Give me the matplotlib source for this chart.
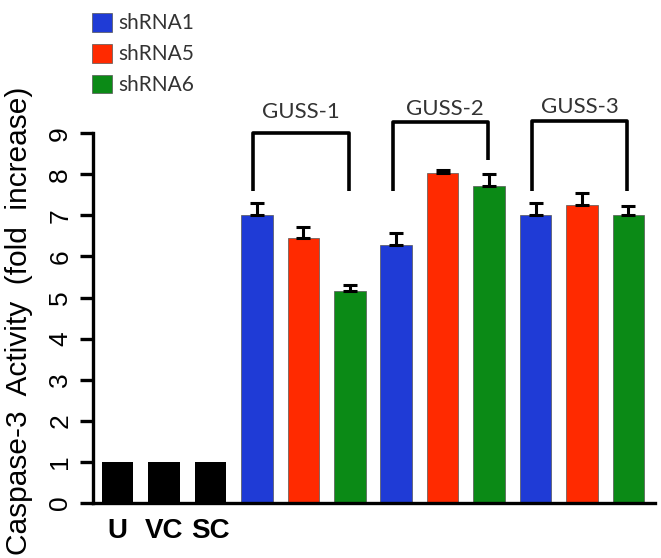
import matplotlib
matplotlib.use("Agg")
import matplotlib.pyplot as plt
import numpy as np

# control samples
controls = ['U', 'VC', 'SC']
control_vals = [1, 1, 1]

# GUSS groups, one value per shRNA
groups = ['GUSS-1', 'GUSS-2', 'GUSS-3']
shrna_names = ['shRNA1', 'shRNA5', 'shRNA6']
shrna1 = [7.0, 6.28, 7.0]
shrna1_err = [0.3, 0.3, 0.3]
shrna5 = [6.45, 8.03, 7.25]
shrna5_err = [0.27, 0.08, 0.29]
shrna6 = [5.16, 7.71, 7.0]
shrna6_err = [0.15, 0.3, 0.22]

# bracket heights above each group
bracket_top = [9.0, 9.27, 9.3]
bracket_left = [7.6, 7.6, 7.6]
bracket_right = [7.6, 8.35, 7.6]
label_y = [9.37, 9.44, 9.49]

colors = ['#1f3bd6', '#ff2a00', '#0b8a16']

plt.rcParams['font.family'] = ['Liberation Sans', 'DejaVu Sans']

fig = plt.figure(figsize=(6.61, 5.58), dpi=100)
ax = fig.add_axes([0.1407, 0.0986, 0.850, 0.740])

w = 0.68
xc = np.arange(len(controls))
ax.bar(xc, control_vals, width=w, color='black')

vals = [shrna1, shrna5, shrna6]
errs = [shrna1_err, shrna5_err, shrna6_err]
for k in range(3):
    x = 3 + 3 * np.arange(len(groups)) + k
    ax.bar(x, vals[k], width=w, color=colors[k], edgecolor='#555555', linewidth=0.5,
           label=shrna_names[k],
           yerr=[np.zeros(len(groups)), errs[k]],
           error_kw=dict(ecolor='black', elinewidth=2.2, capsize=5, capthick=2.2))

for g in range(len(groups)):
    x0 = 3 + 3 * g - 0.08
    x1 = 3 + 3 * g + 2 - 0.02
    ax.plot([x0, x0, x1, x1], [bracket_left[g], bracket_top[g], bracket_top[g], bracket_right[g]],
            color='black', lw=2.6, solid_capstyle='butt', clip_on=False)
    ax.text((x0 + x1) / 2 + (0.1 if g == 1 else 0), label_y[g], groups[g], ha='center', va='baseline',
            fontsize=16, color='#333333', family=['Lato', 'DejaVu Sans'])

ax.set_xlim(-0.53, 11.57)
ax.set_ylim(0, 10.05)
ax.set_yticks(range(10))
ax.set_yticklabels([str(i) for i in range(10)], rotation=90, va='center', fontsize=19)
ax.set_xticks(xc)
ax.set_xticklabels(controls, fontsize=20, fontweight='bold')
ax.tick_params(axis='x', length=0, pad=11)
ax.tick_params(axis='y', length=9.5, width=2.4, pad=5.5)

for s in ['top', 'right']:
    ax.spines[s].set_visible(False)
ax.spines['left'].set_linewidth(2.4)
ax.spines['bottom'].set_linewidth(2.4)
ax.spines['left'].set_bounds(0, 9)

ax.set_ylabel('Caspase-3  Activity  (fold  increase)', fontsize=21.5)
ax.yaxis.set_label_coords(-0.107, 0.44)

leg = ax.legend(loc='upper left', bbox_to_anchor=(92 / 661, 1 - 13 / 558),
                bbox_transform=fig.transFigure, frameon=False,
                borderpad=0, borderaxespad=0,
                prop={'family': ['Lato', 'DejaVu Sans'], 'size': 15},
                handlelength=0.95, handleheight=1.0, handletextpad=0.3, labelspacing=0.5)
for t in leg.get_texts():
    t.set_color('#333333')

fig.savefig('out.png', dpi=100)
